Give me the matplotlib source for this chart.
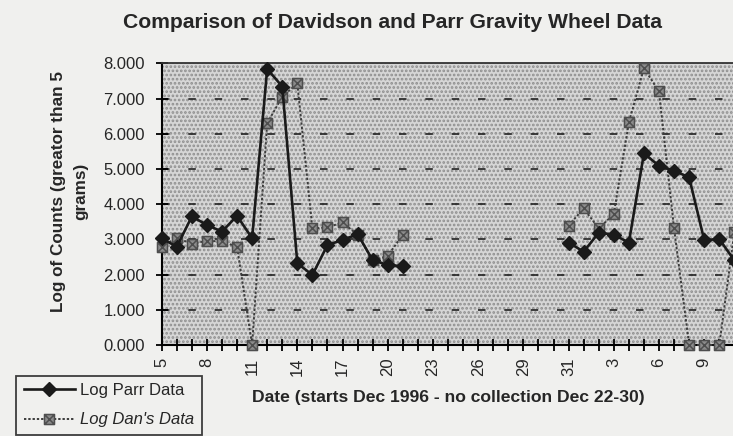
import numpy as np
import matplotlib
matplotlib.use("Agg")
import matplotlib.pyplot as plt
from matplotlib.path import Path

plt.rcParams['font.family'] = ['Liberation Sans', 'DejaVu Sans']
plt.rcParams['hatch.linewidth'] = 1.3

nan = np.nan

# daily samples, Dec 5 1996 onward (no collection Dec 22-30)
parr_log = [3.03, 2.79, 3.65, 3.41, 3.22, 3.67, 3.03, 7.84, 7.34, 2.32,
            1.99, 2.84, 2.98, 3.15, 2.41, 2.27, 2.24,
            nan, nan, nan, nan, nan, nan, nan, nan, nan, nan,
            2.91, 2.65, 3.19, 3.13, 2.91, 5.44, 5.09, 4.95, 4.76, 2.98,
            3.01, 2.40]
dan_log = [2.79, 3.05, 2.87, 2.96, 2.94, 2.79, 0.00, 6.30, 7.05, 7.43,
           3.31, 3.34, 3.48, 3.13, 2.40, 2.53, 3.13,
           nan, nan, nan, nan, nan, nan, nan, nan, nan, nan,
           3.39, 3.88, 3.31, 3.72, 6.32, 7.86, 7.20, 3.31, 0.00, 0.00,
           0.00, 3.20]
date_labels = ["5", "8", "11", "14", "17", "20", "23", "26", "29",
               "31", "3", "6", "9"]
y_ticks = [0, 1, 2, 3, 4, 5, 6, 7, 8]

x = np.arange(len(parr_log))

# square with an X through it, for Dan's points
box_x = Path([(-1, -1), (1, -1), (1, 1), (-1, 1), (-1, -1),
              (-1, -1), (1, 1), (-1, 1), (1, -1)],
             [Path.MOVETO, Path.LINETO, Path.LINETO, Path.LINETO, Path.CLOSEPOLY,
              Path.MOVETO, Path.LINETO, Path.MOVETO, Path.LINETO])

paper = '#f0f0ee'
ink = '#262626'
fig = plt.figure(figsize=(7.33, 4.36), dpi=100, facecolor=paper)
ax = fig.add_axes([0.2206, 0.2087, 1 - 0.2206, 0.8548 - 0.2087])

ax.patch.set_facecolor('#d6d6d6')
ax.patch.set_edgecolor('#8e8e8e')
ax.patch.set_hatch('....')

for yv in y_ticks[1:-1]:
    ax.axhline(yv, color='#222222', lw=1.2, ls=(0, (4.5, 11.3)), zorder=1)

ax.plot(x, dan_log, ls=(0, (1.2, 1.0)), color='#3c3c3c', lw=1.4,
        marker=box_x, markersize=7.2, markerfacecolor='#8c8c8c',
        markeredgecolor='#4e4e4e', markeredgewidth=1.1,
        label="Log Dan's Data", clip_on=False, zorder=3)
ax.plot(x, parr_log, ls='-', color='#1a1a1a', lw=1.9,
        marker='D', markersize=7, markerfacecolor='#1a1a1a',
        markeredgecolor='#1a1a1a', label='Log Parr Data',
        clip_on=False, zorder=4)

ax.set_xlim(0, 37.91)
ax.set_ylim(0, 8)

ax.set_xticks(np.arange(0, 3 * len(date_labels), 3))
ax.set_xticklabels(date_labels, rotation=90, fontsize=12, color=ink)
ax.set_xticks(np.arange(0, 38), minor=True)
ax.tick_params(axis='x', which='both', direction='inout', length=8,
               width=1.3, pad=5)
ax.set_yticks(y_ticks)
ax.set_yticklabels(['%.3f' % v for v in y_ticks], fontsize=12, color=ink)
ax.tick_params(axis='y', direction='inout', length=8, width=1.3, pad=8)

ax.spines['right'].set_visible(False)
ax.spines['left'].set_linewidth(1.5)
ax.spines['bottom'].set_linewidth(1.5)
ax.spines['top'].set_linewidth(1.3)
ax.spines['top'].set_color('#333333')

fig.text(0.535, 0.948, 'Comparison of Davidson and Parr Gravity Wheel Data',
         ha='center', va='center', fontsize=15.2, fontweight='bold',
         color=ink)
fig.text(0.095, 0.56, 'Log of Counts (greator than 5\ngrams)',
         rotation=90, ha='center', va='center', fontsize=12.3,
         fontweight='bold', color=ink, multialignment='center',
         linespacing=1.55)
fig.text(0.612, 0.089, 'Date (starts Dec 1996 - no collection Dec 22-30)',
         ha='center', va='center', fontsize=12.6, fontweight='bold',
         color=ink)

handles, labels = ax.get_legend_handles_labels()
leg = fig.legend(handles[::-1], labels[::-1], loc='upper left',
                 bbox_to_anchor=(0.022, 0.138), fontsize=12,
                 frameon=True, fancybox=False, handlelength=3.1,
                 handletextpad=0.3, borderpad=0.45, labelspacing=0.85,
                 borderaxespad=0)
leg.get_frame().set_edgecolor('#111111')
leg.get_frame().set_linewidth(1.3)
leg.get_frame().set_facecolor(paper)
for t in leg.get_texts():
    t.set_color(ink)
leg.get_texts()[1].set_fontstyle('italic')

fig.savefig('out.png', dpi=100, facecolor=paper)
